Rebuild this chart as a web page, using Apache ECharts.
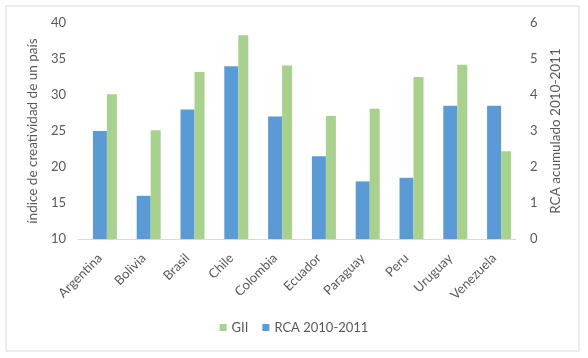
<!DOCTYPE html>
<html>
<head>
<meta charset="utf-8">
<script src="https://cdn.jsdelivr.net/npm/echarts@6/dist/echarts.min.js"></script>
<style>
html,body{margin:0;padding:0;background:#fff;}
#chart{width:588px;height:358px;}
</style>
</head>
<body>
<div id="chart"></div>
<script>
var categories = ['Argentina','Bolivia','Brasil','Chile','Colombia','Ecuador','Paraguay','Peru','Uruguay','Venezuela'];
var gii = [30.1, 25.1, 33.2, 38.3, 34.1, 27.1, 28.1, 32.5, 34.2, 22.2];
var rca = [3.0, 1.2, 3.6, 4.8, 3.4, 2.3, 1.6, 1.7, 3.7, 3.7];
var leftTicks = {min: 10, max: 40, interval: 5};
var rightTicks = {min: 0, max: 6, interval: 1};

var font = 'Lato, "Liberation Sans", sans-serif';
var txt = '#595959';
var chart = echarts.init(document.getElementById('chart'), null, {renderer: 'canvas'});
chart.setOption({
  animation: false,
  backgroundColor: '#fff',
  textStyle: {fontFamily: font},
  graphic: [{
    type: 'rect', silent: true, z: -10,
    shape: {x: 6, y: 6, width: 573, height: 345},
    style: {fill: 'none', stroke: '#d9d9d9', lineWidth: 1}
  }],
  grid: {left: 78, right: 72, top: 23, bottom: 119},
  legend: {
    data: ['GII', 'RCA 2010-2011'],
    bottom: 19, left: 'center',
    icon: 'rect', itemWidth: 7, itemHeight: 7, itemGap: 14,
    textStyle: {color: txt, fontSize: 13, fontFamily: font}
  },
  xAxis: {
    type: 'category',
    data: categories,
    axisLine: {show: true, lineStyle: {color: '#d9d9d9', width: 1}},
    axisTick: {show: false},
    axisLabel: {rotate: 45, color: txt, fontSize: 13, fontFamily: font, margin: 17, interval: 0}
  },
  yAxis: [{
    type: 'value', position: 'left',
    min: leftTicks.min, max: leftTicks.max, interval: leftTicks.interval,
    name: 'índice de creatividad de un país', nameLocation: 'middle', nameGap: 31,
    nameTextStyle: {color: txt, fontSize: 13.5, fontFamily: font},
    axisLine: {show: false}, axisTick: {show: false}, splitLine: {show: false},
    axisLabel: {color: txt, fontSize: 13, fontFamily: font, margin: 12}
  }, {
    type: 'value', position: 'right',
    min: rightTicks.min, max: rightTicks.max, interval: rightTicks.interval,
    name: 'RCA acumulado 2010-2011', nameLocation: 'middle', nameGap: 32,
    nameTextStyle: {color: txt, fontSize: 13.5, fontFamily: font},
    axisLine: {show: false}, axisTick: {show: false}, splitLine: {show: false},
    axisLabel: {color: txt, fontSize: 13, fontFamily: font, margin: 14}
  }],
  series: [{
    name: 'spacer', type: 'bar', data: [], barWidth: 10, barGap: '0%', yAxisIndex: 0
  }, {
    name: 'RCA 2010-2011', type: 'bar', data: rca, yAxisIndex: 1,
    barWidth: 14, barGap: '0%',
    itemStyle: {color: '#5B9BD5'}
  }, {
    name: 'GII', type: 'bar', data: gii, yAxisIndex: 0,
    barWidth: 10, barGap: '0%',
    itemStyle: {color: '#A9D18E'}
  }]
});
</script>
</body>
</html>
